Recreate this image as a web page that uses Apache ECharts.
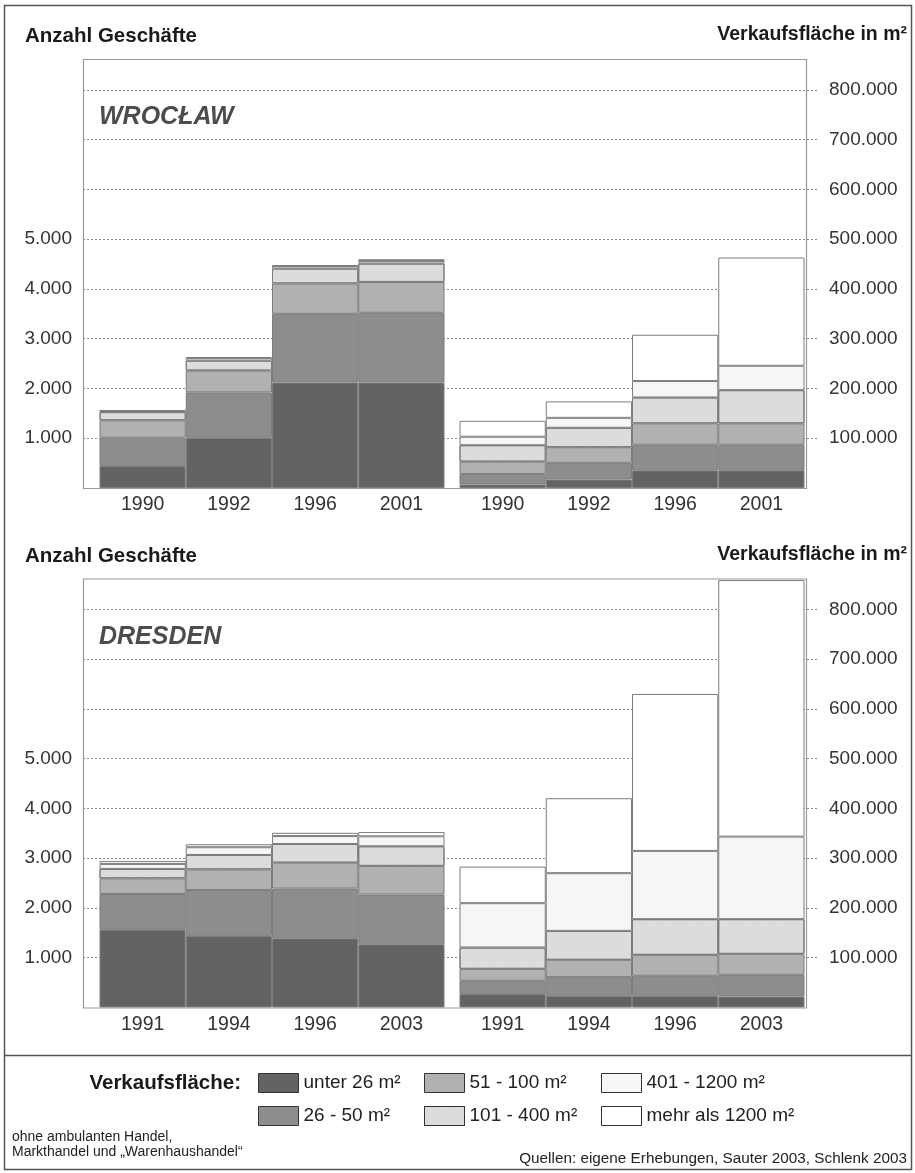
<!DOCTYPE html>
<html>
<head>
<meta charset="utf-8">
<script src="https://cdn.jsdelivr.net/npm/echarts@6.0.0/dist/echarts.min.js"></script>
<style>
html,body{margin:0;padding:0;background:#fff;}
#c{width:915px;height:1173px;}
</style>
</head>
<body>
<div id="c"></div>
<script>
// ---------- DATA ----------
const classes = ['unter 26 m²', '26 - 50 m²', '51 - 100 m²', '101 - 400 m²', '401 - 1200 m²', 'mehr als 1200 m²'];
const wroclawYears = ['1990', '1992', '1996', '2001'];
const dresdenYears = ['1991', '1994', '1996', '2003'];

// Anzahl Geschäfte, one row per size class (same order as classes)
const wroclawShops = [
  [440, 1010, 2120, 2120],
  [570, 910, 1380, 1400],
  [350, 440, 610, 620],
  [165, 200, 300, 370],
  [25, 50, 50, 50],
  [10, 20, 17, 37]
];
// Verkaufsfläche in m²
const wroclawArea = [
  [7000, 17000, 35600, 35600],
  [21000, 33500, 51300, 51300],
  [25000, 31500, 43000, 43000],
  [33000, 39000, 52000, 66700],
  [17000, 20000, 33000, 49000],
  [32000, 33000, 93000, 217500]
];
const dresdenShops = [
  [1560, 1440, 1390, 1270],
  [720, 920, 1000, 1000],
  [315, 415, 520, 575],
  [190, 290, 375, 395],
  [100, 155, 160, 200],
  [60, 60, 65, 85]
];
const dresdenArea = [
  [26900, 23500, 23500, 22100],
  [26700, 37500, 40200, 43600],
  [24100, 34800, 42100, 42100],
  [42800, 58200, 71700, 69700],
  [89100, 115900, 137200, 165900],
  [73500, 150600, 315300, 515400]
];

const shopTicks = [1000, 2000, 3000, 4000, 5000];
const areaTicks = [100000, 200000, 300000, 400000, 500000, 600000, 700000, 800000];
const shopMax = 8620;
const areaMax = 862000;

// ---------- STYLE ----------
const classColors = ['#636363', '#8d8d8d', '#b1b1b1', '#dcdcdc', '#f6f6f6', '#ffffff'];
const FONT = 'Liberation Sans, Arial, sans-serif';
const fmt = v => String(v).replace(/\B(?=(\d{3})+(?!\d))/g, '.');

const H = 429;
const charts = [
  { top: 59, city: 'WROCŁAW', years: wroclawYears, shops: wroclawShops, area: wroclawArea },
  { top: 578.5, city: 'DRESDEN', years: dresdenYears, shops: dresdenShops, area: dresdenArea }
];

const grid = [], xAxis = [], yAxis = [], series = [], graphic = [];

charts.forEach((c, ci) => {
  const g0 = grid.length;
  grid.push({ left: 83, top: c.top, width: 734, height: H });          // background grid (gridlines, y labels)
  grid.push({ left: 99.5, top: c.top, width: 345, height: H });        // shops bars
  grid.push({ left: 459.5, top: c.top, width: 345, height: H });       // area bars

  xAxis.push({ gridIndex: g0, type: 'value', min: 0, max: 1, show: false });
  yAxis.push({
    gridIndex: g0, type: 'value', position: 'left', min: 0, max: shopMax, interval: 1000,
    axisLine: { show: false }, axisTick: { show: false },
    axisLabel: {
      margin: 11, fontSize: 19, color: '#333', fontFamily: FONT,
      formatter: v => shopTicks.indexOf(v) >= 0 ? fmt(v) : ''
    },
    splitLine: { show: true, showMinLine: false, showMaxLine: false, lineStyle: { type: [2, 2], color: '#8a8a8a', width: 1 } }
  });
  yAxis.push({
    gridIndex: g0, type: 'value', position: 'right', min: 0, max: areaMax, interval: 100000,
    axisLine: { show: false }, axisTick: { show: false },
    axisLabel: {
      margin: 12, fontSize: 19, color: '#333', fontFamily: FONT,
      formatter: v => areaTicks.indexOf(v) >= 0 ? fmt(v) : ''
    },
    splitLine: { show: false }
  });

  [[c.shops, shopMax], [c.area, areaMax]].forEach((pair, pi) => {
    const gi = g0 + 1 + pi;
    const xi = xAxis.length;
    xAxis.push({
      gridIndex: gi, type: 'category', data: c.years,
      axisLine: { show: false }, axisTick: { show: false },
      axisLabel: { margin: 7, fontSize: 19.5, color: '#333', fontFamily: FONT }
    });
    const yi = yAxis.length;
    yAxis.push({ gridIndex: gi, type: 'value', min: 0, max: pair[1], show: false, splitLine: { show: false } });
    pair[0].forEach((vals, k) => {
      const s = {
        type: 'bar', name: classes[k], xAxisIndex: xi, yAxisIndex: yi,
        stack: 'st' + ci + '_' + pi, barCategoryGap: '0%', data: vals,
        itemStyle: { color: classColors[k], borderColor: '#7c7c7c', borderWidth: 1 },
        emphasis: { disabled: true }, z: 3
      };
      if (k === 3) {
        s.itemStyle.decal = { symbol: 'rect', symbolSize: 0.5, color: 'rgba(0,0,0,0.35)', dashArrayX: [[1, 13]], dashArrayY: [1, 11], rotation: 0 };
      }
      series.push(s);
    });
  });

  graphic.push({ type: 'rect', z: 50, shape: { x: 83.5, y: c.top + 0.5, width: 723, height: H }, style: { fill: null, stroke: '#9a9a9a', lineWidth: 1.2 } });
  graphic.push({ type: 'text', z: 50, left: 25, top: c.top - 33, style: { text: 'Anzahl Geschäfte', font: 'bold 20.5px ' + FONT, fill: '#1a1a1a' } });
  graphic.push({ type: 'text', z: 50, right: 8, top: c.top - 34, style: { text: 'Verkaufsfläche in m²', font: 'bold 19.5px ' + FONT, fill: '#1a1a1a' } });
  graphic.push({ type: 'text', z: 50, left: 99, top: c.top + 46, style: { text: c.city, font: 'italic bold 25px ' + FONT, fill: '#4c4c4c' } });
});

graphic.push({ type: 'rect', z: 60, shape: { x: 4.5, y: 5.5, width: 907, height: 1164 }, style: { fill: null, stroke: '#555', lineWidth: 1.5 } });
graphic.push({ type: 'line', z: 60, shape: { x1: 4.5, y1: 1055.5, x2: 911.5, y2: 1055.5 }, style: { stroke: '#555', lineWidth: 1.5 } });
graphic.push({ type: 'text', z: 50, right: 915 - 241, top: 1073, style: { text: 'Verkaufsfläche:', font: 'bold 20.5px ' + FONT, fill: '#1a1a1a', align: 'right' } });
graphic.push({ type: 'text', z: 50, left: 12, top: 1130, style: { text: 'ohne ambulanten Handel,\nMarkthandel und „Warenhaushandel“', font: '14px ' + FONT, fill: '#222', lineHeight: 15 } });
graphic.push({ type: 'text', z: 50, right: 8, top: 1151, style: { text: 'Quellen: eigene Erhebungen, Sauter 2003, Schlenk 2003', font: '15.3px ' + FONT, fill: '#222' } });

const legendBase = {
  orient: 'vertical', top: 1073, padding: 0, itemWidth: 40, itemHeight: 19, itemGap: 13,
  icon: 'rect', selectedMode: false,
  itemStyle: { borderColor: '#333', borderWidth: 1 },
  textStyle: { fontSize: 19, color: '#222', fontFamily: FONT, padding: [0, 0, 0, 0] }
};
const legend = [
  Object.assign({}, legendBase, { left: 258, data: [classes[0], classes[1]] }),
  Object.assign({}, legendBase, { left: 424, data: [classes[2], classes[3]] }),
  Object.assign({}, legendBase, { left: 601, data: [classes[4], classes[5]] })
];

const chart = echarts.init(document.getElementById('c'), null, { renderer: 'canvas' });
chart.setOption({
  animation: false,
  backgroundColor: '#fff',
  textStyle: { fontFamily: FONT },
  grid, xAxis, yAxis, series, legend, graphic
});
</script>
</body>
</html>
